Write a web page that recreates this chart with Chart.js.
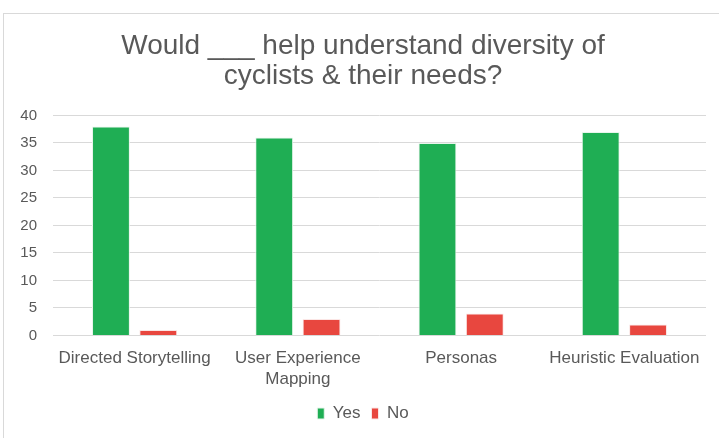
<!DOCTYPE html>
<html>
<head>
<meta charset="utf-8">
<script src="https://cdn.jsdelivr.net/npm/chart.js@4"></script>
<style>
  body { margin: 0; background: #fff; }
  #box {
    position: absolute; left: 3px; top: 13px;
    width: 720px; height: 430px;
    border: 1px solid #d9d9d9; box-sizing: border-box;
  }
  #wrap { position: absolute; left: 0; top: 0; width: 716px; height: 425px; }
</style>
</head>
<body>
<div id="box"><div id="wrap"><canvas id="chart"></canvas></div></div>
<script>
// survey answers per method
const categories = [
    "Directed Storytelling",
    ["User Experience", "Mapping"],
    "Personas",
    "Heuristic Evaluation"
];
const yesValues = [38, 36, 35, 37];
const noValues = [1, 3, 4, 2];
const yTicks = [0, 5, 10, 15, 20, 25, 30, 35, 40];

const grey = "#595959";
const font = "'Liberation Sans', Arial, sans-serif";

const ctx = document.getElementById("chart").getContext("2d");
const chart = new Chart(ctx, {
    type: "bar",
    data: {
        labels: categories,
        datasets: [
            {
                label: "Yes",
                data: yesValues,
                backgroundColor: "#1fae54",
                borderColor: "#e8f5ec",
                borderWidth: 1,
                categoryPercentage: 0.58,
                barPercentage: 0.8
            },
            {
                label: "No",
                data: noValues,
                backgroundColor: "#e8473f",
                borderColor: "#fbe6e5",
                borderWidth: 1,
                categoryPercentage: 0.58,
                barPercentage: 0.8
            }
        ]
    },
    options: {
        responsive: true,
        maintainAspectRatio: false,
        animation: false,
        layout: { padding: { left: 16, right: 14, top: 11, bottom: 7 } },
        scales: {
            x: {
                grid: { display: false },
                border: { display: false },
                ticks: { color: grey, font: { family: font, size: 17, lineHeight: 1.25 }, maxRotation: 0, autoSkip: false, padding: 4 }
            },
            y: {
                min: 0,
                max: 40,
                afterBuildTicks: axis => { axis.ticks = yTicks.map(v => ({ value: v })); },
                afterFit: axis => { axis.width = 33; },
                grid: { color: "#d9d9d9", lineWidth: 1, drawTicks: false },
                border: { display: false },
                ticks: { color: grey, font: { family: font, size: 15 }, padding: 16 }
            }
        },
        plugins: {
            title: {
                display: true,
                text: ["Would ___ help understand diversity of", "cyclists & their needs?"],
                color: grey,
                font: { family: font, size: 28, weight: "normal", lineHeight: 1.08 },
                padding: { top: 6, bottom: 24 }
            },
            legend: {
                position: "bottom",
                labels: {
                    color: grey,
                    font: { family: font, size: 17 },
                    boxWidth: 7,
                    boxHeight: 11,
                    padding: 11
                }
            },
            tooltip: { enabled: false }
        }
    }
});
</script>
</body>
</html>
